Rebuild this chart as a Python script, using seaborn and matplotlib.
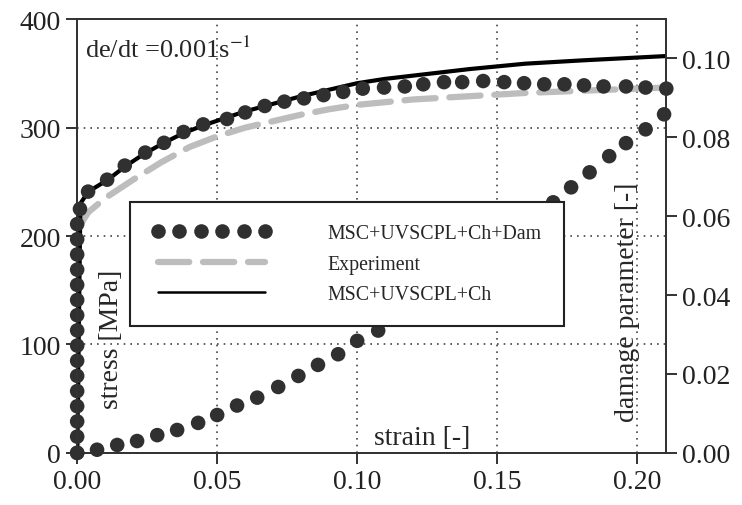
import numpy as np
import pandas as pd
import matplotlib
matplotlib.use('Agg')
import matplotlib.pyplot as plt
import seaborn as sns
from matplotlib.lines import Line2D

# MSC+UVSCPL+Ch+Dam (stress dots)
dam_strain = [0, 0, 0, 0, 0, 0, 0, 0, 0, 0, 0, 0, 0, 0, 0, 0, 0.001,
              0.0039, 0.0107, 0.017, 0.0243, 0.031, 0.038, 0.045, 0.0535, 0.060, 0.067,
              0.074, 0.081, 0.088, 0.095, 0.102, 0.1096, 0.117, 0.1236, 0.131, 0.1375,
              0.145, 0.1525, 0.1596, 0.1668, 0.174, 0.181, 0.188, 0.196, 0.203, 0.2104]
dam_stress = [0, 15, 29, 43, 57, 71, 85, 99, 113, 127, 141, 155, 169, 183, 197, 211, 225,
              241, 252, 265, 277, 286, 296, 303, 308, 314, 320,
              324, 327, 330, 333, 336, 337, 338, 340, 342, 342,
              343, 342, 341, 340, 340, 339, 338, 338, 337, 336]

# Experiment
exp_strain = [0, 0.0005, 0.004, 0.01, 0.02, 0.03, 0.04, 0.05, 0.06, 0.07, 0.08, 0.09,
              0.10, 0.12, 0.14, 0.16, 0.18, 0.21]
exp_stress = [0, 208, 222, 235, 252, 268, 282, 292, 300, 306, 312, 317,
              321, 326, 329, 332, 334, 337]

# MSC+UVSCPL+Ch
ch_strain = [0, 0.00115, 0.004, 0.011, 0.017, 0.024, 0.031, 0.038, 0.045, 0.053, 0.06,
             0.07, 0.08, 0.09, 0.10, 0.11, 0.12, 0.14, 0.16, 0.18, 0.21]
ch_stress = [0, 230, 241, 252, 264, 276, 286, 295, 302, 309, 315,
             322, 329, 335, 341, 345, 348, 354, 359, 362, 366]

# damage parameter (right axis)
dmg_strain = [0, 0.0071, 0.0143, 0.0214, 0.0286, 0.0357, 0.0432, 0.05, 0.0571, 0.0643,
              0.0718, 0.079, 0.086, 0.0932, 0.10, 0.1075, 0.1146, 0.1218, 0.129, 0.136,
              0.143, 0.150, 0.157, 0.164, 0.170, 0.1764, 0.183, 0.19, 0.196, 0.203, 0.2096]
dmg_value = [0, 0.0008, 0.002, 0.003, 0.0045, 0.0058, 0.0076, 0.0096, 0.012, 0.014,
             0.0167, 0.0195, 0.0223, 0.025, 0.0284, 0.031, 0.034, 0.0375, 0.041, 0.0445,
             0.048, 0.0515, 0.0555, 0.0595, 0.0635, 0.0673, 0.0711, 0.0752, 0.0785, 0.082, 0.0858]

x_ticks = [0.00, 0.05, 0.10, 0.15, 0.20]
y_ticks = [0, 100, 200, 300, 400]
y2_ticks = [0.00, 0.02, 0.04, 0.06, 0.08, 0.10]

sns.set_style('ticks')
plt.rcParams['font.family'] = ['Liberation Serif', 'DejaVu Serif']
plt.rcParams['mathtext.fontset'] = 'stix'

dot_col = '#303030'
grey = '#bdbdbd'

fig = plt.figure(figsize=(7.42, 5.06), dpi=100)
ax = fig.add_subplot(111)
fig.subplots_adjust(left=0.104, right=0.898, bottom=0.103, top=0.96)

df_exp = pd.DataFrame({'strain': exp_strain, 'stress': exp_stress})
df_ch = pd.DataFrame({'strain': ch_strain, 'stress': ch_stress})
df_dam = pd.DataFrame({'strain': dam_strain, 'stress': dam_stress})
df_dmg = pd.DataFrame({'strain': dmg_strain, 'damage': dmg_value})

sns.lineplot(data=df_exp, x='strain', y='stress', ax=ax, sort=False, color=grey,
             lw=4.5, dashes=False, zorder=2)
ax.lines[-1].set_dashes((5, 2.2))
ax.lines[-1].set_dash_capstyle('round')
sns.lineplot(data=df_ch, x='strain', y='stress', ax=ax, sort=False, color='black',
             lw=3.0, zorder=3)
sns.scatterplot(data=df_dam, x='strain', y='stress', ax=ax, color=dot_col, s=110,
                edgecolor='none', zorder=4, clip_on=False)

ax.set_xlim(0, 0.2104)
ax.set_ylim(0, 400)
ax.set_xticks(x_ticks)
ax.set_xticklabels(['%.2f' % v for v in x_ticks])
ax.set_yticks(y_ticks)
ax.set_xlabel('')
ax.set_ylabel('')
ax.grid(True, linestyle=(0, (1, 3)), color='#444444', lw=1.2)
ax.tick_params(labelsize=20, length=8, width=1.3, direction='out', colors='#222222')
for s in ax.spines.values():
    s.set_linewidth(1.3)
    s.set_color('#333333')

ax2 = ax.twinx()
sns.scatterplot(data=df_dmg, x='strain', y='damage', ax=ax2, color=dot_col, s=110,
                edgecolor='none', zorder=4, clip_on=False)
ax2.set_ylim(0, 0.1099)
ax2.set_yticks(y2_ticks)
ax2.set_yticklabels(['%.2f' % v for v in y2_ticks])
ax2.set_ylabel('')
ax2.tick_params(labelsize=20, length=8, width=1.3, direction='out', colors='#222222')
for s in ax2.spines.values():
    s.set_linewidth(1.3)
    s.set_color('#333333')

ax.text(0.014, 0.912, 'de/dt =0.001s$^{-1}$', transform=ax.transAxes, fontsize=19,
        va='baseline', ha='left')
ax.text(0.503, 0.02, 'strain [-]', transform=ax.transAxes, fontsize=20,
        va='baseline', ha='left')
ax.text(0.058, 0.263, 'stress [MPa]', transform=ax.transAxes, fontsize=20,
        rotation=90, va='center', ha='center')
ax.text(0.934, 0.35, 'damage parameter [-]', transform=ax.transAxes, fontsize=20,
        rotation=90, va='center', ha='center')

handles = [
    Line2D([], [], ls='none', marker='o', ms=10.5, color=dot_col, mec='none'),
    Line2D([], [], color=grey, lw=4.5, dashes=(5, 2.2), dash_capstyle='round'),
    Line2D([], [], color='black', lw=1.8),
]
labels = ['MSC+UVSCPL+Ch+Dam', 'Experiment', 'MSC+UVSCPL+Ch']
leg = ax2.legend(handles, labels, loc='upper left', bbox_to_anchor=(0.09, 0.578),
                 fontsize=14.3, numpoints=6, handlelength=6.0, handletextpad=2.85,
                 labelspacing=0.58, borderpad=1.1, borderaxespad=0, fancybox=False,
                 framealpha=1, edgecolor='#222222')
leg.get_frame().set_linewidth(1.5)
leg.set_zorder(10)

fig.savefig('out.png', dpi=100)
